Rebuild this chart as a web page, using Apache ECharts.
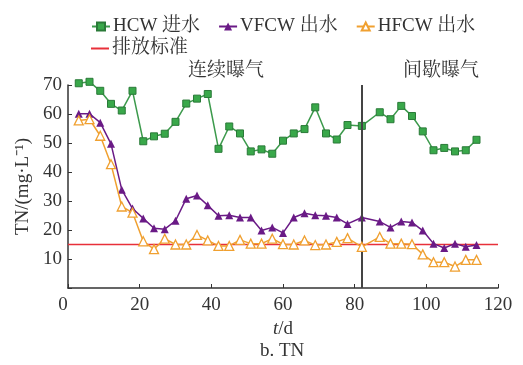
<!DOCTYPE html>
<html>
<head>
<meta charset="utf-8">
<script src="https://cdn.jsdelivr.net/npm/echarts@6/dist/echarts.min.js"></script>
<style>html,body{margin:0;padding:0;background:#fff}#c{width:523px;height:365px}</style>
</head>
<body>
<div id="c"></div>
<script>
// ---- data ----
const tHCW = [3,6,9,12,15,18,21,24,27,30,33,36,39,42,45,48,51,54,57,60,63,66,69,72,75,78,82,87,90,93,96,99,102,105,108,111,114];
const hcw  = [70.6,71.1,68,63.5,61.2,68,50.6,52.3,53.2,57.3,63.6,65.3,66.9,48.0,55.7,53.3,47.1,47.8,46.3,50.8,53.3,54.8,62.3,53.3,51.2,56.2,55.9,60.6,58.2,62.8,59.3,54.0,47.5,48.3,47.1,47.5,51.1];
const vfcw = [60.1,60.1,57.0,49.7,33.9,27.4,24.0,20.6,20.3,23.2,30.8,31.9,28.5,24.9,25.1,24.3,24.3,19.8,20.9,19.0,24.3,25.8,25.1,24.9,24.3,22.1,24.3,22.9,20.9,22.9,22.6,19.8,15.3,13.8,15.3,14.2,14.8];
const hfcw = [57.8,58.2,52.5,42.7,28.1,26.0,16.1,13.4,17.0,15.0,15.0,18.3,16.4,14.5,14.5,16.6,15.3,15.3,17.0,15.1,15.0,16.4,14.8,15.0,15.9,17.2,14.2,17.6,15.3,15.3,15.1,11.6,8.9,8.9,7.4,9.7,9.7];
const stdX = [0,120];
const stdY = [15,15];
const phaseSplit = 82;
const xTicks = {min:0, max:120, interval:20};
const yTicks = {min:0, max:70, interval:10};
const names = ['HCW 进水','VFCW 出水','HFCW 出水','排放标准'];
const phaseLabels = ['连续曝气','间歇曝气'];

const pair = (xs, ys) => xs.map((x,i)=>[x, ys[i]]);
const FONT = '"Liberation Serif","Noto Serif CJK SC","Noto Sans CJK SC",serif';
const TXT = '#333';
const FS = 19;

const chart = echarts.init(document.getElementById('c'), null, {renderer:'canvas'});
chart.setOption({
  animation:false,
  backgroundColor:'#fff',
  textStyle:{fontFamily:FONT, color:TXT},
  grid:{left:68, right:25, top:85, bottom:77},
  legend:[
    {data:names.slice(0,3), left:86, top:12, itemWidth:18, itemHeight:10, itemGap:18,
     textStyle:{fontFamily:FONT, fontSize:FS, color:TXT, padding:[0,0,0,-2]}},
    {data:[{name:names[3], icon:'rect'}], left:86, top:34, itemWidth:18, itemHeight:2,
     textStyle:{fontFamily:FONT, fontSize:FS, color:TXT, padding:[0,0,0,-2]}}
  ],
  graphic:[
    {type:'text', left:188, top:62, style:{text:phaseLabels[0], font:FS+'px '+FONT, fill:TXT}},
    {type:'text', left:403, top:62, style:{text:phaseLabels[1], font:FS+'px '+FONT, fill:TXT}},
    {type:'text', left:260, top:342, style:{text:'b. TN', font:FS+'px '+FONT, fill:TXT}}
  ],
  xAxis:{
    type:'value', min:xTicks.min, max:xTicks.max, interval:xTicks.interval,
    name:'{i|t}/d', nameLocation:'middle', nameGap:31,
    nameTextStyle:{fontFamily:FONT, fontSize:FS, color:TXT, rich:{i:{fontStyle:'italic', fontFamily:FONT, fontSize:FS, color:TXT}}},
    axisLine:{lineStyle:{color:'#333', width:1.5}},
    axisTick:{inside:true, length:4, lineStyle:{color:'#333'}},
    axisLabel:{fontFamily:FONT, fontSize:FS, color:TXT, margin:8,
      formatter:v=> v===0 ? '{z|0}' : String(v),
      rich:{z:{fontFamily:FONT, fontSize:FS, color:TXT, padding:[0,10,0,0]}}},
    splitLine:{show:false}
  },
  yAxis:{
    type:'value', min:yTicks.min, max:yTicks.max, interval:yTicks.interval,
    name:'TN/(mg·L⁻¹)', nameLocation:'middle', nameGap:34, nameRotate:90,
    nameTextStyle:{fontFamily:FONT, fontSize:FS, color:TXT},
    axisLine:{show:true, lineStyle:{color:'#333', width:1.5}},
    axisTick:{show:true, inside:true, length:4, lineStyle:{color:'#333'}},
    axisLabel:{fontFamily:FONT, fontSize:FS, color:TXT, margin:6, formatter:v=> v===0?'':String(v)},
    splitLine:{show:false}
  },
  series:[
    {name:names[0], type:'line', data:pair(tHCW,hcw), symbol:'rect', symbolSize:7, clip:false,
     itemStyle:{color:'#39a84a', borderColor:'#2a7a38', borderWidth:1},
     lineStyle:{color:'#3c9a4c', width:1.5}, z:3},
    {name:names[1], type:'line', data:pair(tHCW,vfcw), symbol:'triangle', symbolSize:8, clip:false,
     itemStyle:{color:'#6a1a86'}, lineStyle:{color:'#6a1a86', width:1.5}, z:4},
    {name:names[2], type:'line', data:pair(tHCW,hfcw), symbol:'triangle', symbolSize:9, clip:false,
     itemStyle:{color:'#fff', borderColor:'#f0a030', borderWidth:1.3},
     lineStyle:{color:'#f0a030', width:1.5}, z:5},
    {name:names[3], type:'line', data:pair(stdX,stdY), symbol:'none',
     itemStyle:{color:'#e8303a'}, lineStyle:{color:'#e8303a', width:1.5}, z:2,
     markLine:{silent:true, symbol:'none', label:{show:false},
       lineStyle:{color:'#444', width:2, type:'solid'},
       data:[{xAxis:phaseSplit}]}}
  ]
});
</script>
</body>
</html>
